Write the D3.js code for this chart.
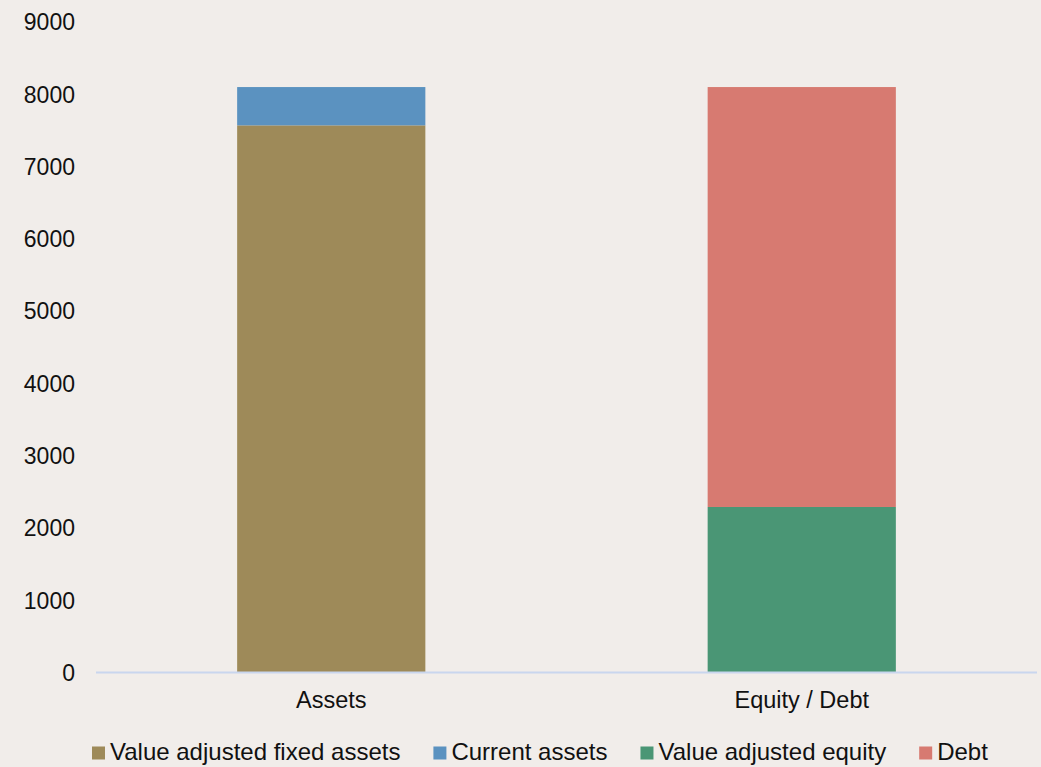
<!DOCTYPE html>
<html>
<head>
<meta charset="utf-8">
<script src="https://cdn.jsdelivr.net/npm/d3@7"></script>
<style>
  html, body { margin: 0; padding: 0; background: #F1EDEA; }
  svg { display: block; }
  text { font-family: "Liberation Sans", Arial, sans-serif; fill: #111; }
</style>
</head>
<body>
<svg id="chart" width="1041" height="767"></svg>
<script>
// Balance sheet composition: two stacked columns
const categories = ["Assets", "Equity / Debt"];
const seriesNames = ["Value adjusted fixed assets", "Current assets", "Value adjusted equity", "Debt"];
const seriesColors = ["#9E8A59", "#5B92C0", "#4A9675", "#D77A71"];
// values per series, indexed by category
const fixedAssets   = [7570, 0];
const currentAssets = [530, 0];
const equity        = [0, 2290];
const debt          = [0, 5810];
const yTicks = [0, 1000, 2000, 3000, 4000, 5000, 6000, 7000, 8000, 9000];

const seriesValues = [fixedAssets, currentAssets, equity, debt];
const rows = categories.map((c, i) => {
  const r = { category: c };
  seriesNames.forEach((s, k) => { r[s] = seriesValues[k][i]; });
  return r;
});

const svg = d3.select("#chart");
const margin = { left: 96, right: 4, top: 22, bottom: 95 };
const W = 1041, H = 767;
const x = d3.scaleBand().domain(categories).range([margin.left, W - margin.right]).paddingInner(0.6).paddingOuter(0.3);
const y = d3.scaleLinear().domain([0, 9000]).range([672.5, 22]);

const stack = d3.stack().keys(seriesNames);
const layers = stack(rows);

svg.append("g").selectAll("g").data(layers).join("g")
  .attr("fill", (d, i) => seriesColors[i])
  .selectAll("rect").data(d => d).join("rect")
  .attr("x", d => x(d.data.category))
  .attr("width", x.bandwidth())
  .attr("y", d => y(d[1]))
  .attr("height", d => Math.max(0, y(d[0]) - y(d[1])));

// category axis line
svg.append("line")
  .attr("x1", margin.left).attr("x2", W - margin.right)
  .attr("y1", y(0)).attr("y2", y(0))
  .attr("stroke", "#C9D6EE").attr("stroke-width", 2);

// y tick labels
svg.append("g").selectAll("text").data(yTicks).join("text")
  .attr("x", 75).attr("y", d => y(d))
  .attr("dy", "0.36em")
  .attr("text-anchor", "end")
  .attr("font-size", 23)
  .text(d => d);

// category labels
svg.append("g").selectAll("text").data(categories).join("text")
  .attr("x", d => x(d) + x.bandwidth() / 2)
  .attr("y", 708)
  .attr("text-anchor", "middle")
  .attr("font-size", 23.5)
  .text(d => d);

// legend
const legend = svg.append("g");
let lx = 92;
seriesNames.forEach((name, i) => {
  legend.append("rect")
    .attr("x", lx).attr("y", 746.5)
    .attr("width", 13).attr("height", 13)
    .attr("fill", seriesColors[i]);
  const t = legend.append("text")
    .attr("x", lx + 18).attr("y", 760)
    .attr("font-size", 24)
    .text(name);
  lx += 18 + t.node().getComputedTextLength() + 33;
});
</script>
</body>
</html>
